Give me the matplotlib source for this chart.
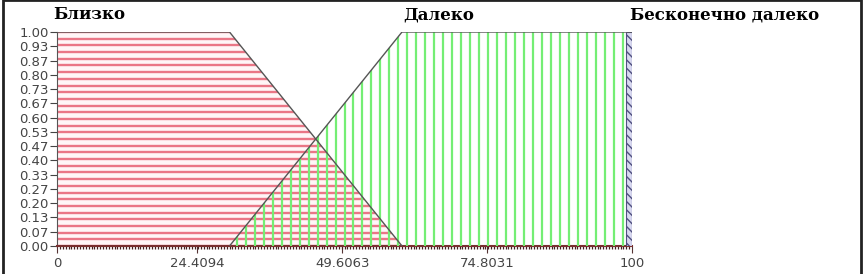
import numpy as np
import matplotlib.pyplot as plt
from matplotlib.patches import Rectangle

# membership functions (x, mu)
close_x = [0, 0, 30, 60]
close_y = [0, 1, 1, 0]
far_x = [30, 60, 100, 100]
far_y = [0, 1, 1, 0]
inf_x = [99, 99, 100, 100]
inf_y = [0, 1, 1, 0]

names = ["Близко", "Далеко", "Бесконечно далеко"]
name_x = [-0.7, 60.2, 99.6]

x_ticks = [0, 24.4094, 49.6063, 74.8031, 100]
x_labels = ["0", "24.4094", "49.6063", "74.8031", "100"]
y_ticks = np.arange(16) / 15
y_labels = ["0.00", "0.07", "0.13", "0.20", "0.27", "0.33", "0.40", "0.47",
            "0.53", "0.60", "0.67", "0.73", "0.80", "0.87", "0.93", "1.00"]

fig = plt.figure(figsize=(8.64, 2.74), dpi=100)
ax = fig.add_axes([57 / 864, 28 / 274, 575 / 864, 214 / 274])
ax.set_xlim(0, 100)
ax.set_ylim(0, 1)

# Близко: red horizontal hatching
p1 = ax.fill(close_x, close_y, facecolor="#fff6f7", edgecolor="none", zorder=1)[0]
hl = ax.hlines(np.arange(0, 1.001, 1 / 32), 0, 100, colors="#ea7686", lw=1.7, zorder=2)
hl.set_clip_path(p1)

# Далеко: green vertical hatching
p2 = ax.fill(far_x, far_y, facecolor="none", edgecolor="none", zorder=1)[0]
vl = ax.vlines(np.arange(0, 100, 100 / 64), 0, 1, colors="#74ee74", lw=1.6, zorder=3)
vl.set_clip_path(p2)

# Бесконечно далеко
ax.fill(inf_x, inf_y, facecolor="#d8d8f0", edgecolor="#505080", hatch="\\\\\\\\",
        lw=0.8, zorder=4)

# outlines
ax.plot(close_x[1:], close_y[1:], color="#555555", lw=1, zorder=5)
ax.plot(far_x[:3], far_y[:3], color="#555555", lw=1, zorder=5)

for n, xp in zip(names, name_x):
    ax.text(xp, 1.04, n, family="DejaVu Serif", fontweight="bold",
            fontsize=12, ha="left", va="bottom", clip_on=False)

for s in ["top", "right"]:
    ax.spines[s].set_visible(False)
ax.spines["left"].set_color("#555555")
ax.spines["bottom"].set_color("#7a3030")
ax.spines["bottom"].set_linewidth(1.5)

ax.set_xticks(x_ticks, x_labels)
ax.set_xticks(np.arange(0, 100.1, 0.5), minor=True)
ax.set_yticks(y_ticks, y_labels)
ax.tick_params(axis="x", which="major", length=5, color="#553333",
               labelsize=9.5, labelcolor="#444444", pad=3)
ax.tick_params(axis="x", which="minor", length=2.5, color="#442222", width=0.9)
ax.tick_params(axis="y", length=5, color="#444444", labelsize=9.5,
               labelcolor="#444444", pad=1)

fig.patches.append(Rectangle((0.003, -0.01), 0.993, 1.01, transform=fig.transFigure,
                             fill=False, ec="#222222", lw=2))

fig.savefig("out.png", dpi=100)
